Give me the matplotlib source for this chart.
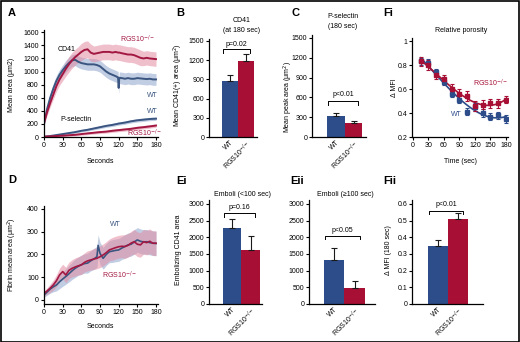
import numpy as np
import matplotlib
matplotlib.use("Agg")
import matplotlib.pyplot as plt
from matplotlib.patches import Rectangle

W, H = 520, 342
BLUE = "#2d4c8a"
RED = "#a70f35"
BLUE_LN = "#3a5580"
RED_LN = "#a31843"
BLUE_BAND = "#8ea4cc"
RED_BAND = "#e28ca3"

plt.rcParams['font.family'] = ['Liberation Sans', 'DejaVu Sans']
NARROW = ['Liberation Sans Narrow', 'Liberation Sans', 'DejaVu Sans']
KO = "RGS10$^{-/-}$"

# ---- A: CD41 / P-selectin areas over time
t_a = [0, 5, 10, 15, 20, 25, 30, 35, 40, 45, 50, 55, 60, 65, 70, 75, 80, 85, 90,
       95, 100, 105, 110, 115, 119, 120, 121, 125, 130, 135, 140, 145, 150, 155,
       160, 165, 170, 175, 180]
cd41_wt = [200, 430, 600, 740, 860, 950, 1020, 1080, 1130, 1170, 1180, 1150, 1130,
           1120, 1110, 1110, 1110, 1100, 1080, 1040, 1000, 970, 950, 930, 910, 750,
           905, 900, 890, 900, 890, 890, 900, 895, 890, 885, 890, 880, 880]
cd41_wt_sd = [40, 60, 70, 80, 80, 80, 80, 90, 90, 90, 90, 90, 90, 90, 90, 90, 90, 90,
              90, 90, 90, 90, 90, 90, 90, 90, 90, 90, 90, 90, 90, 90, 90, 90, 90, 90,
              90, 90, 90]
cd41_ko = [220, 380, 520, 650, 780, 880, 960, 1040, 1110, 1170, 1220, 1260, 1300,
           1330, 1340, 1290, 1270, 1280, 1290, 1300, 1300, 1300, 1290, 1300, 1290,
           1290, 1290, 1280, 1270, 1260, 1260, 1250, 1230, 1210, 1200, 1210, 1200,
           1195, 1190]
cd41_ko_sd = [40, 50, 60, 70, 80, 90, 100, 110, 120, 120, 120, 120, 130, 130, 130,
              130, 120, 120, 120, 120, 120, 120, 120, 120, 120, 120, 120, 120, 120,
              120, 120, 120, 120, 120, 110, 110, 110, 110, 110]
t_p = [0, 10, 20, 30, 40, 50, 60, 70, 80, 90, 100, 110, 120, 130, 140, 150, 160, 170, 180]
psel_wt = [5, 15, 30, 45, 60, 75, 95, 110, 130, 150, 170, 185, 205, 220, 240, 255, 265, 275, 280]
psel_ko = [5, 10, 15, 20, 27, 33, 45, 55, 65, 75, 82, 95, 105, 115, 125, 140, 150, 162, 175]
psel_sd = [5, 8, 10, 12, 14, 16, 18, 20, 20, 22, 22, 24, 24, 25, 25, 26, 26, 26, 26]

# ---- D: fibrin
t_d = [0, 5, 10, 15, 20, 25, 30, 35, 40, 45, 50, 55, 60, 65, 70, 75, 80, 85, 87, 90,
       95, 100, 105, 110, 115, 120, 125, 130, 135, 140, 145, 150, 155, 160, 165, 170,
       175, 180]
fib_wt = [22, 35, 48, 58, 66, 80, 92, 103, 115, 128, 139, 148, 155, 160, 162, 172,
          180, 190, 240, 205, 183, 200, 212, 215, 218, 220, 228, 235, 242, 245, 255,
          264, 258, 255, 256, 252, 250, 248]
fib_ko = [29, 40, 52, 66, 85, 110, 125, 110, 130, 139, 145, 150, 154, 165, 172, 176,
          180, 183, 186, 190, 198, 208, 220, 225, 230, 234, 236, 235, 240, 250, 256,
          245, 242, 256, 252, 258, 249, 250]
fib_sd = [10, 14, 18, 22, 26, 30, 32, 34, 36, 38, 40, 40, 42, 42, 44, 44, 46, 46, 46,
          48, 48, 48, 48, 50, 50, 50, 50, 52, 52, 52, 54, 54, 54, 54, 54, 54, 54, 54]

# ---- Fi: relative porosity
t_f = [15, 30, 45, 60, 75, 90, 105, 120, 135, 150, 165, 180]
mfi_wt = [0.83, 0.82, 0.74, 0.66, 0.56, 0.51, 0.41, 0.45, 0.40, 0.37, 0.38, 0.35]
mfi_ko = [0.83, 0.80, 0.72, 0.68, 0.60, 0.56, 0.54, 0.46, 0.47, 0.48, 0.48, 0.51]
mfi_wt_err = [0.03, 0.03, 0.03, 0.03, 0.03, 0.03, 0.03, 0.03, 0.03, 0.03, 0.03, 0.03]
mfi_ko_err = [0.04, 0.04, 0.04, 0.04, 0.04, 0.04, 0.04, 0.04, 0.04, 0.04, 0.04, 0.03]

# ---- bar panels: (WT, RGS10-/-)
groups = ["WT", KO]
b_mean, b_err = [875, 1190], [95, 100]
c_mean, c_err = [325, 210], [35, 35]
ei_mean, ei_err = [2270, 1630], [280, 400]
eii_mean, eii_err = [1325, 490], [360, 190]
fii_mean, fii_err = [0.35, 0.51], [0.035, 0.035]

fig = plt.figure(figsize=(W / 100, H / 100), dpi=100)


def px_axes(l, t, r, b):
    return fig.add_axes([l / W, 1 - b / H, (r - l) / W, (b - t) / H])


def style(ax):
    for s in ["top", "right"]:
        ax.spines[s].set_visible(False)
    for s in ["left", "bottom"]:
        ax.spines[s].set_linewidth(0.9)
    ax.tick_params(direction="out", length=2, width=0.8, labelsize=5, pad=1.5)


def bars(ax, mean, err, pval, ybr, ytxt, dy):
    ax.bar([0, 1], mean, width=1.0, color=[BLUE, RED], zorder=2)
    ax.errorbar([0, 1], mean, yerr=[[0, 0], err], fmt="none", ecolor="#1a1a1a",
                elinewidth=0.8, capsize=2, capthick=0.8, zorder=3)
    ax.plot([-0.45, -0.45, 1.25, 1.25], [ybr - dy, ybr, ybr, ybr - dy], color="black", lw=0.7)
    ax.text(0.4, ytxt, pval, ha="center", va="center", fontsize=5)
    ax.set_xticks([0, 1])
    ax.set_xticklabels(groups, rotation=45, ha="right", rotation_mode="anchor", fontsize=5)
    style(ax)
    ax.tick_params(axis="x", length=0)


def ylab(x, y, s):
    fig.text(x / W, 1 - y / H, s, rotation=90, ha="center", va="center",
             fontsize=5, family=NARROW)


def xlab(x, y, s):
    fig.text(x / W, 1 - y / H, s, ha="center", va="center", fontsize=5, family=NARROW)


def letter(x, y, s):
    fig.text(x / W, 1 - y / H, s, ha="left", va="center", fontsize=8, weight="bold")


def ttl(x, y, s):
    fig.text(x / W, 1 - y / H, s, ha="center", va="center", fontsize=5)


# A
ax = px_axes(43.5, 30, 157.5, 137)
for t, m, sd, c, bc in [(t_a, cd41_wt, cd41_wt_sd, BLUE_LN, BLUE_BAND),
                        (t_a, cd41_ko, cd41_ko_sd, RED_LN, RED_BAND),
                        (t_p, psel_wt, psel_sd, BLUE_LN, BLUE_BAND),
                        (t_p, psel_ko, psel_sd, RED_LN, RED_BAND)]:
    m, sd = np.array(m), np.array(sd)
    ax.fill_between(t, m - sd, m + sd, color=bc, alpha=0.55, lw=0)
    ax.plot(t, m, color=c, lw=1.4)
ax.set_xlim(-0.8, 182.4)
ax.set_ylim(0, 1635)
ax.set_xticks(range(0, 181, 30))
ax.set_yticks(range(0, 1601, 200))
ax.text(37, 1330, "CD41", fontsize=5, ha="center", va="center")
ax.text(150, 1485, KO, fontsize=5, ha="center", va="center", color=RED_LN)
ax.text(175, 640, "WT", fontsize=5, ha="center", va="center", color=BLUE_LN)
ax.text(175, 387, "WT", fontsize=5, ha="center", va="center", color=BLUE_LN)
ax.text(52, 270, "P-selectin", fontsize=5, ha="center", va="center")
ax.text(162, 56, KO, fontsize=5, ha="center", va="center", color=RED_LN)
style(ax)
ylab(12, 85, "Mean area (\u03bcm2)")
xlab(100, 162, "Seconds")
letter(8, 13, "A")

# B
ax = px_axes(209, 39, 257, 137)
bars(ax, b_mean, b_err, "p=0.02", 1367, 1450, 60)
ax.set_xlim(-1.31, 1.69)
ax.set_ylim(0, 1531)
ax.set_yticks(range(0, 1501, 300))
ylab(178, 85, "Mean CD41(+) area (\u03bcm$^2$)")
ttl(242, 21, "CD41")
ttl(242, 31, "(at 180 sec)")
letter(176, 13, "B")

# C
ax = px_axes(312, 35, 366, 137)
bars(ax, c_mean, c_err, "p<0.01", 550, 650, 60)
ax.set_xlim(-1.37, 1.71)
ax.set_ylim(0, 1545)
ax.set_yticks(range(0, 1501, 300))
ylab(288.5, 97, "Mean peak area (\u03bcm$^2$)")
ttl(343, 16, "P-selectin")
ttl(343, 27, "(180 sec)")
letter(292, 13, "C")

# Fi
ax = px_axes(412, 38, 508, 137)
tt = np.linspace(15, 180, 100)
for m, e, c in [(mfi_wt, mfi_wt_err, BLUE), (mfi_ko, mfi_ko_err, RED)]:
    ax.plot(tt, np.polyval(np.polyfit(t_f, m, 3), tt), color=c, lw=1.2, zorder=2)
    ax.errorbar(t_f, m, yerr=e, fmt="s", color=c, ms=2.8, elinewidth=0.8,
                capsize=1.5, capthick=0.8, zorder=3)
ax.set_xlim(-1.9, 183.9)
ax.set_ylim(0.2, 1.025)
ax.set_xticks(range(0, 181, 30))
ax.set_yticks([0.2, 0.4, 0.6, 0.8, 1.0])
ax.set_yticklabels(["0.2", "0.4", "0.6", "0.8", "1"])
ax.text(150, 0.65, KO, fontsize=5, ha="center", va="center", color=RED)
ax.text(84, 0.39, "WT", fontsize=5, ha="center", va="center", color=BLUE)
style(ax)
ylab(394, 88, "\u0394 MFI")
xlab(461, 162, "Time (sec)")
ttl(461, 31, "Relative porosity")
letter(383, 13, "Fi")

# D
ax = px_axes(43.5, 206, 157.5, 304.3)
for m, c, bc in [(fib_wt, BLUE_LN, BLUE_BAND), (fib_ko, RED_LN, RED_BAND)]:
    m, sd = np.array(m), np.array(fib_sd)
    ax.fill_between(t_d, m - sd, m + sd, color=bc, alpha=0.55, lw=0)
    ax.plot(t_d, m, color=c, lw=1.2)
ax.set_xlim(-0.8, 182.4)
ax.set_ylim(-18.9, 413)
ax.set_xticks(range(0, 181, 30))
ax.set_yticks(range(0, 401, 100))
ax.text(114, 330, "WT", fontsize=5, ha="center", va="center", color=BLUE_LN)
ax.text(122, 110, KO, fontsize=5, ha="center", va="center", color=RED_LN)
style(ax)
ylab(12, 255, "Fibrin mean area (\u03bcm$^2$)")
xlab(100, 327, "Seconds")
letter(8, 180, "D")

# Ei
ax = px_axes(209, 200, 262, 304)
bars(ax, ei_mean, ei_err, "p=0.16", 2720, 2900, 110)
ax.set_xlim(-1.24, 1.62)
ax.set_ylim(0, 3120)
ax.set_yticks(range(0, 3001, 500))
ylab(178, 250, "Embolizing CD41 area")
ttl(242, 194, "Emboli (<100 sec)")
letter(176, 181, "Ei")

# Eii
ax = px_axes(309, 200, 375, 304)
bars(ax, eii_mean, eii_err, "p<0.05", 2050, 2200, 110)
ax.set_xlim(-1.22, 2.0)
ax.set_ylim(0, 3120)
ax.set_yticks(range(0, 3001, 500))
ttl(345, 194, "Emboli (\u2265100 sec)")
letter(290, 181, "Eii")

# Fii
ax = px_axes(412, 200, 483, 304)
bars(ax, fii_mean, fii_err, "p<0.01", 0.56, 0.598, 0.02)
ax.set_xlim(-1.3, 2.25)
ax.set_ylim(0, 0.624)
ax.set_yticks([0, 0.1, 0.2, 0.3, 0.4, 0.5, 0.6])
ax.set_yticklabels(["0", "0.1", "0.2", "0.3", "0.4", "0.5", "0.6"])
ylab(389, 250, "\u0394 MFI (180 sec)")
letter(383, 181, "Fii")

fig.patches.append(Rectangle((0.5 / W, 0.5 / H), 1 - 1.5 / W, 1 - 1.5 / H,
                             transform=fig.transFigure, fill=False,
                             edgecolor="black", lw=1.2))

fig.savefig("out.png", dpi=100)
